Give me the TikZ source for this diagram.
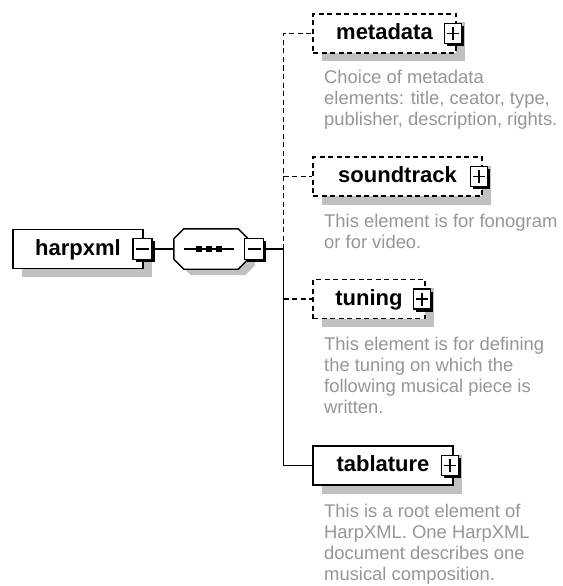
\documentclass[tikz,border=0pt]{standalone}
\usepackage{fontspec}
\setmainfont{Liberation Sans}
\usetikzlibrary{shadows}
\definecolor{shgray}{RGB}{192,192,192}
\definecolor{descgray}{RGB}{150,150,150}
\newcommand\desctext[1]{\begin{tabular}[t]{@{}l@{}}#1\end{tabular}}
\begin{document}
\begin{tikzpicture}[x=1pt,y=-1pt,
  elem/.style={draw, line width=1.4pt, fill=white, minimum height=39pt,
    inner xsep=0pt, inner ysep=0pt, text height=12pt, text depth=0pt,
    font=\bfseries\fontsize{22}{26}\selectfont,
    drop shadow={shadow xshift=8.5pt, shadow yshift=-8.5pt, fill=shgray, opacity=1}},
  opt/.style={dash pattern=on 5pt off 3.5pt},
  sqbox/.style={draw, line width=1.2pt, fill=white, inner sep=0pt,
    minimum width=17pt, minimum height=20pt,
    drop shadow={shadow xshift=2.5pt, shadow yshift=-2.5pt, fill=black, opacity=1}},
  plusbox/.style={sqbox, path picture={\draw[line width=1.4pt]
    ([xshift=-6pt]path picture bounding box.center) -- ([xshift=6pt]path picture bounding box.center)
    ([yshift=-6.5pt]path picture bounding box.center) -- ([yshift=6.5pt]path picture bounding box.center);}},
  minusbox/.style={sqbox, minimum width=19pt, minimum height=21pt, path picture={\draw[line width=1.4pt]
    ([xshift=-6.5pt]path picture bounding box.center) -- ([xshift=6.5pt]path picture bounding box.center);}},
  desc/.style={anchor=base west, inner sep=0pt, text=descgray, font=\fontsize{18.4}{21}\selectfont},
  conn/.style={line width=1.4pt},
  inv/.style={inner sep=0pt, minimum width=74pt, minimum height=40pt}
]
\fill[white] (0,0) rectangle (562,586);
\useasboundingbox (0,0) rectangle (562,586);

% root element
\node[elem, minimum width=130pt] (hx) at (78,249) {harpxml\hspace{7pt}};
\node[minusbox] (hm) at (142.5,249) {};

% sequence compositor
\node[inv] (oct) at (211,249) {};
\begin{scope}[transform canvas={xshift=7pt,yshift=-6pt}]
\fill[shgray] ([xshift=10pt]oct.north west) -- ([xshift=-10pt]oct.north east) -- ([yshift=-10pt]oct.north east)
  -- ([yshift=10pt]oct.south east) -- ([xshift=-10pt]oct.south east) -- ([xshift=10pt]oct.south west)
  -- ([yshift=10pt]oct.south west) -- ([yshift=-10pt]oct.north west) -- cycle;
\end{scope}
\draw[fill=white, line width=1.4pt] ([xshift=10pt]oct.north west) -- ([xshift=-10pt]oct.north east) -- ([yshift=-10pt]oct.north east)
  -- ([yshift=10pt]oct.south east) -- ([xshift=-10pt]oct.south east) -- ([xshift=10pt]oct.south west)
  -- ([yshift=10pt]oct.south west) -- ([yshift=-10pt]oct.north west) -- cycle;
\draw[line width=1.4pt] ([xshift=-27pt]oct.center) -- ([xshift=23pt]oct.center);
\foreach \dx in {-12,-2,8} {
  \fill ([xshift=\dx pt-2.8pt, yshift=-2.8pt]oct.center) rectangle ([xshift=\dx pt+2.8pt, yshift=2.8pt]oct.center);
}
\node[minusbox] (om) at (254,249) {};

% child elements
\node[elem, opt, minimum width=143pt] (md) at (384.5,33.5) {metadata\hspace{7pt}};
\node[plusbox] (mp) at (453,33.5) {};
\node[elem, opt, minimum width=169pt] (st) at (397.5,176.5) {soundtrack\hspace{7pt}};
\node[plusbox] (sp) at (479,176.5) {};
\node[elem, opt, minimum width=112pt] (tu) at (369,299) {tuning\hspace{7pt}};
\node[plusbox] (tp) at (422,299) {};
\node[elem, minimum width=140pt] (tb) at (383,465.5) {tablature\hspace{7pt}};
\node[plusbox] (tbp) at (450,465.5) {};

% connectors
\coordinate (j) at (283.5,249);
\coordinate (c1) at (283.5,33.5);
\coordinate (c2) at (283.5,176.5);
\coordinate (c3) at (283.5,299);
\coordinate (c4) at (283.5,465.5);
\draw[conn] (hm.east) -- (oct.west);
\draw[conn] (om.east) -- (j);
\draw[conn, opt] (j) -- (c1) -- (md.west);
\draw[conn, opt] (c2) -- (st.west);
\draw[conn] (j) -- (c4) -- (tb.west);
\draw[conn, opt] (c3) -- (tu.west);

% annotations
\node[desc] (mdd) at (324,83.5) {\desctext{Choice of metadata\\ elements: title, ceator, type,\\ publisher, description, rights.}};
\node[desc] (std) at (324,227) {\desctext{This element is for fonogram\\ or for video.}};
\node[desc] (tud) at (324,350) {\desctext{This element is for defining\\ the tuning on which the\\ following musical piece is\\ written.}};
\node[desc] (tbd) at (324,517) {\desctext{This is a root element of\\ HarpXML. One HarpXML\\ document describes one\\ musical composition.}};
\end{tikzpicture}
\end{document}
